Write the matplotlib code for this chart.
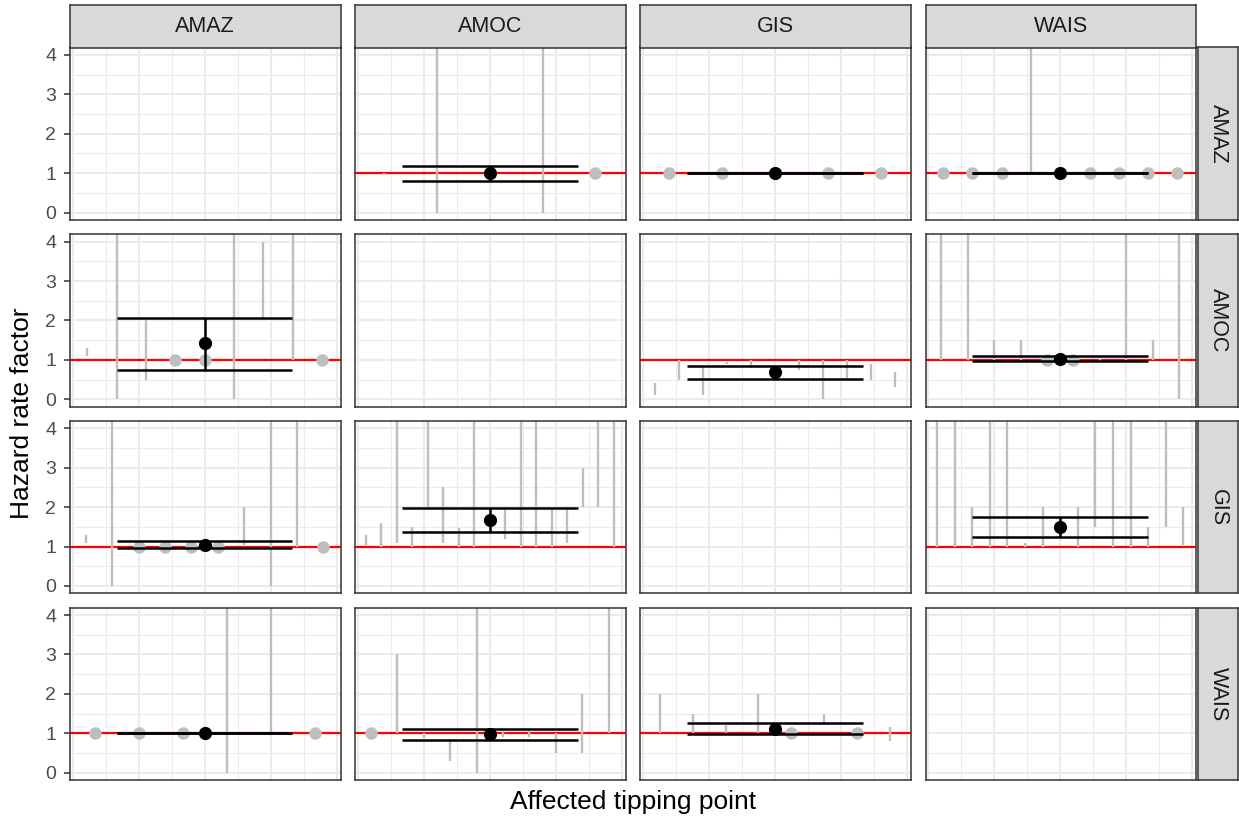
import numpy as np
import matplotlib
matplotlib.use("Agg")
import matplotlib.pyplot as plt
from matplotlib.ticker import MultipleLocator

plt.rcParams['font.family'] = ['Liberation Sans', 'DejaVu Sans']

# ---------------- data ----------------
tipping_points = ["AMAZ", "AMOC", "GIS", "WAIS"]   # rows = driver, cols = affected
TOP = 6.0   # upper bounds that run beyond the visible range

# individual study ranges (lo, hi) per (row, col); lo == hi -> point; nan -> not shown
study_lo = {
    ("AMAZ", "AMOC"): [0.95, 0.0, np.nan, 0.0, 1.0],
    ("AMAZ", "GIS"):  [1.0, 1.0, np.nan, 1.0, 1.0],
    ("AMAZ", "WAIS"): [1.0, 1.0, 1.0, 1.0, np.nan, 1.0, 1.0, 1.0, 1.0],
    ("AMOC", "AMAZ"): [1.1, 0.0, 0.5, 1.0, 1.0, 0.0, 2.0, 1.0, 1.0],
    ("AMOC", "GIS"):  [0.1, 0.5, 0.1, 0.9, 0.8, np.nan, 0.73, 0.0, 0.55, 0.5, 0.3],
    ("AMOC", "WAIS"): [1.0, 1.0, 1.0, 1.0, 1.0, 1.0, 0.97, 1.0, 1.0, 0.0],
    ("GIS", "AMAZ"):  [1.1, 0.0, 1.0, 1.0, 1.0, 1.0, 1.05, 0.0, 1.0, 1.0],
    ("GIS", "AMOC"):  [1.05, 1.0, 1.1, 1.0, 2.0, 1.1, 1.0, 1.0, np.nan,
                       1.2, 1.0, 1.0, 1.0, 1.1, 2.0, 2.0, 1.0],
    ("GIS", "WAIS"):  [1.0, 1.0, 1.0, 1.0, 1.0, 1.0, 1.0, np.nan,
                       1.0, 1.5, 1.0, 1.0, 1.0, 1.5, 1.05],
    ("WAIS", "AMAZ"): [1.0, 1.0, 1.0, 0.0, 1.0, 1.0],
    ("WAIS", "AMOC"): [1.0, 1.0, 0.87, 0.3, 0.0, 0.9, 0.9, 0.5, 0.5, 1.0],
    ("WAIS", "GIS"):  [1.0, 1.0, 1.0, 1.0, 1.0, 1.2, 1.0, 0.8],
}
study_hi = {
    ("AMAZ", "AMOC"): [1.0, TOP, np.nan, TOP, 1.0],
    ("AMAZ", "GIS"):  [1.0, 1.0, np.nan, 1.0, 1.0],
    ("AMAZ", "WAIS"): [1.0, 1.0, 1.0, TOP, np.nan, 1.0, 1.0, 1.0, 1.0],
    ("AMOC", "AMAZ"): [1.3, TOP, 2.0, 1.0, 1.0, TOP, 4.0, TOP, 1.0],
    ("AMOC", "GIS"):  [0.4, 1.0, 0.85, 0.95, 1.0, np.nan, 1.0, 1.0, 1.0, 0.9, 0.7],
    ("AMOC", "WAIS"): [TOP, TOP, 1.5, 1.5, 1.0, 1.0, 1.03, TOP, 1.5, TOP],
    ("GIS", "AMAZ"):  [1.3, TOP, 1.0, 1.0, 1.0, 1.0, 2.0, TOP, TOP, 1.0],
    ("GIS", "AMOC"):  [1.3, 1.6, TOP, 1.5, TOP, 2.5, 1.47, TOP, np.nan,
                       1.95, TOP, TOP, 1.95, 1.95, 3.0, TOP, TOP],
    ("GIS", "WAIS"):  [TOP, TOP, 2.0, TOP, TOP, 1.08, 2.0, np.nan,
                       2.0, TOP, TOP, TOP, 1.5, TOP, 2.0],
    ("WAIS", "AMAZ"): [1.0, 1.0, 1.0, TOP, TOP, 1.0],
    ("WAIS", "AMOC"): [1.0, 3.0, 1.0, 0.86, TOP, 1.06, 1.06, 1.0, 2.0, TOP],
    ("WAIS", "GIS"):  [2.0, 1.5, 1.2, 2.0, 1.0, 1.5, 1.0, 1.15],
}

# pooled estimate per panel
sum_row = ["AMAZ", "AMAZ", "AMAZ", "AMOC", "AMOC", "AMOC", "GIS", "GIS", "GIS", "WAIS", "WAIS", "WAIS"]
sum_col = ["AMOC", "GIS", "WAIS", "AMAZ", "GIS", "WAIS", "AMAZ", "AMOC", "WAIS", "AMAZ", "AMOC", "GIS"]
sum_est = [1.0, 1.0, 1.0, 1.42, 0.68, 1.02, 1.04, 1.68, 1.49, 1.0, 0.98, 1.12]
sum_lo = [0.79, 1.0, 1.0, 0.75, 0.52, 0.96, 0.96, 1.37, 1.23, 1.0, 0.83, 0.98]
sum_hi = [1.19, 1.0, 1.0, 2.07, 0.85, 1.10, 1.13, 1.99, 1.76, 1.0, 1.12, 1.27]

y_ticks = [0, 1, 2, 3, 4]
DODGE_WIDTH = 4.0
ERRBAR_WIDTH = 2.66

# ---------------- figure ----------------
W, H = 1239, 819
fig = plt.figure(figsize=(W / 100, H / 100), dpi=100)


def px_axes(left, top, width, height, **kw):
    return fig.add_axes([left / W, 1 - (top + height) / H, width / W, height / H], **kw)


col_left0, col_step, pw = 70.0, 285.2, 270.5
row_top0, row_step, ph = 47.5, 186.7, 172.5
grey20 = "#333333"

for i, rname in enumerate(tipping_points):
    for j, cname in enumerate(tipping_points):
        left = col_left0 + j * col_step
        top = row_top0 + i * row_step
        ax = px_axes(left, top, pw, ph)
        ax.set_xlim(-2.04, 2.06)
        ax.set_ylim(-0.19, 4.19)
        ax.xaxis.set_major_locator(MultipleLocator(1))
        ax.xaxis.set_minor_locator(MultipleLocator(0.5))
        ax.set_yticks(y_ticks)
        ax.yaxis.set_minor_locator(MultipleLocator(0.5))
        ax.grid(which="major", color="#EBEBEB", lw=1.45, zorder=0)
        ax.grid(which="minor", color="#EBEBEB", lw=0.75, zorder=0)
        ax.set_axisbelow(True)
        ax.tick_params(axis="x", which="both", length=0, labelbottom=False)
        ax.tick_params(axis="y", which="minor", length=0)
        if j == 0:
            ax.tick_params(axis="y", which="major", length=4.5, width=1.1, color=grey20,
                           labelsize=14, labelcolor="#4D4D4D", pad=5.5)
        else:
            ax.tick_params(axis="y", which="major", length=0, labelleft=False)
        for sp in ax.spines.values():
            sp.set_color(grey20)
            sp.set_linewidth(1.1)
            sp.set_zorder(10)

        key = (rname, cname)
        if key in study_lo:
            ax.axhline(1, color="red", lw=1.6, zorder=2)
            lo = np.array(study_lo[key], dtype=float)
            hi = np.array(study_hi[key], dtype=float)
            n = len(lo)
            xs = (np.arange(n) - (n - 1) / 2) * DODGE_WIDTH / n
            seg = ~np.isnan(lo) & (hi > lo)
            pt = ~np.isnan(lo) & (hi == lo)
            ax.vlines(xs[seg], lo[seg], hi[seg], color="#BEBEBE", lw=1.7, zorder=3)
            ax.plot(xs[pt], lo[pt], "o", color="#BEBEBE", ms=9, mec="none", zorder=4)
            k = [m for m in range(len(sum_row)) if sum_row[m] == rname and sum_col[m] == cname][0]
            ax.vlines(0, sum_lo[k], sum_hi[k], color="black", lw=1.8, zorder=5)
            ax.hlines([sum_lo[k], sum_hi[k]], -ERRBAR_WIDTH / 2, ERRBAR_WIDTH / 2,
                      color="black", lw=1.8, zorder=5)
            ax.plot([0], [sum_est[k]], "o", color="black", ms=9.5, mec="none", zorder=6)

        # top strips
        if i == 0:
            sax = px_axes(left, 5.0, pw, top - 5.0)
            sax.set_facecolor("#D9D9D9")
            sax.set_xticks([]); sax.set_yticks([])
            for sp in sax.spines.values():
                sp.set_color(grey20); sp.set_linewidth(1.1)
            sax.text(0.5, 0.5, cname, ha="center", va="center", fontsize=15.5,
                     color="#1A1A1A", transform=sax.transAxes)
        # right strips
        if j == len(tipping_points) - 1:
            sx = left + pw + 2.0
            sax = px_axes(sx, top, 1238.0 - sx, ph)
            sax.set_facecolor("#D9D9D9")
            sax.set_xticks([]); sax.set_yticks([])
            for sp in sax.spines.values():
                sp.set_color(grey20); sp.set_linewidth(1.1)
            sax.text(0.5, 0.5, rname, ha="center", va="center", fontsize=15.5, rotation=270,
                     color="#1A1A1A", transform=sax.transAxes)

fig.text(22 / W, 1 - 413 / H, "Hazard rate factor", rotation=90, ha="center", va="center",
         fontsize=19, color="black")
fig.text(633 / W, 1 - 802 / H, "Affected tipping point", ha="center", va="center",
         fontsize=19, color="black")

fig.savefig("out.png", dpi=100)
